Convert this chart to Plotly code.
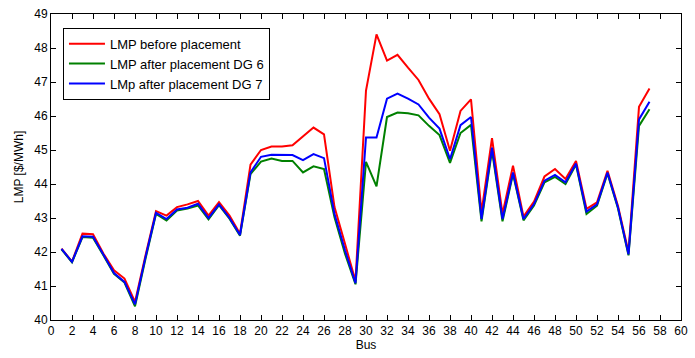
import plotly.graph_objects as go

bus = list(range(1, 58))

lmp_before = [42.10, 41.72, 42.54, 42.52, 41.95, 41.46, 41.22, 40.53, 41.90, 43.20,
              43.07, 43.32, 43.40, 43.50, 43.07, 43.47, 43.07, 42.54, 44.57, 45.00,
              45.10, 45.10, 45.14, 45.41, 45.66, 45.46, 43.32, 42.24, 41.15, 46.75,
              48.40, 47.63, 47.80, 47.42, 47.06, 46.51, 46.05, 44.98, 46.15, 46.49,
              43.17, 45.35, 43.12, 44.54, 43.04, 43.48, 44.22, 44.44, 44.15, 44.68,
              43.27, 43.46, 44.39, 43.35, 42.00, 46.27, 46.81]

lmp_dg6 = [42.08, 41.70, 42.44, 42.42, 41.90, 41.36, 41.10, 40.40, 41.80, 43.12,
           42.93, 43.22, 43.28, 43.37, 42.96, 43.38, 42.98, 42.48, 44.29, 44.66,
           44.75, 44.68, 44.68, 44.34, 44.52, 44.44, 43.02, 41.95, 41.05, 44.65,
           43.93, 45.97, 46.10, 46.08, 46.02, 45.71, 45.44, 44.62, 45.50, 45.74,
           42.90, 44.98, 42.90, 44.29, 42.93, 43.37, 44.05, 44.21, 44.00, 44.57,
           43.12, 43.36, 44.31, 43.28, 41.90, 45.71, 46.20]

lmp_dg7 = [42.09, 41.71, 42.46, 42.45, 41.92, 41.38, 41.12, 40.46, 41.85, 43.15,
           42.97, 43.25, 43.30, 43.42, 43.00, 43.40, 43.00, 42.50, 44.34, 44.80,
           44.86, 44.85, 44.85, 44.70, 44.88, 44.76, 43.12, 42.05, 41.08, 45.37,
           45.37, 46.51, 46.66, 46.51, 46.34, 45.95, 45.63, 44.73, 45.73, 45.97,
           42.97, 45.07, 42.97, 44.34, 42.97, 43.41, 44.10, 44.27, 44.05, 44.60,
           43.19, 43.40, 44.34, 43.31, 41.93, 45.90, 46.42]

names = ["LMP before placement", "LMP after placement DG 6", "LMp after placement DG 7"]
colors = ["#ff0000", "#008000", "#0000ff"]

fig = go.Figure()
for name, vals, col in zip(names, [lmp_before, lmp_dg6, lmp_dg7], colors):
    fig.add_trace(go.Scatter(x=bus, y=vals, mode="lines", name=name,
                             line=dict(color=col, width=2)))

axis_common = dict(showline=True, linecolor="black", linewidth=1, mirror="ticks",
                   ticks="inside", ticklen=5, tickcolor="black", showgrid=False,
                   zeroline=False, tickfont=dict(family="Liberation Sans", size=12, color="black"))

fig.update_layout(
    width=695, height=358,
    margin=dict(l=51, r=7, t=13, b=38),
    plot_bgcolor="white", paper_bgcolor="white",
    font=dict(family="Liberation Sans", size=12, color="black"),
    xaxis=dict(range=[0, 60], dtick=2, tick0=0,
               title=dict(text="Bus", standoff=2, font=dict(size=12)), **axis_common),
    yaxis=dict(range=[40, 49], dtick=1, tick0=40,
               title=dict(text="LMP [$/MWh]", standoff=8, font=dict(size=12)), **axis_common),
    legend=dict(x=0.019, y=0.955, xanchor="left", yanchor="top",
                bgcolor="white", bordercolor="black", borderwidth=1,
                font=dict(family="Liberation Sans", size=13),
                tracegroupgap=0, itemwidth=36),
    showlegend=True,
)

fig.write_html("out.html")
